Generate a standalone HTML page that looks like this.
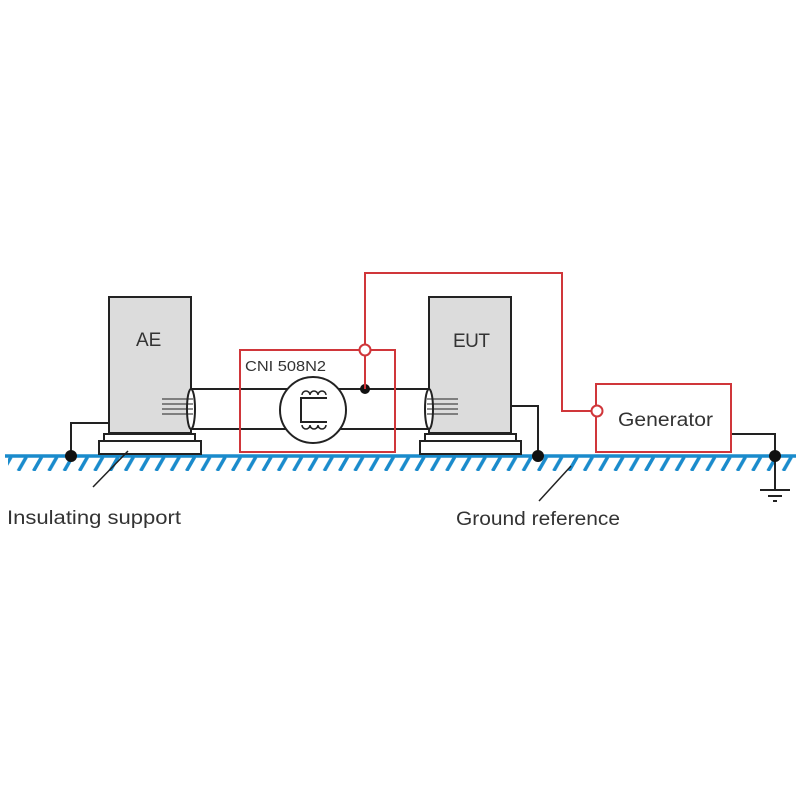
<!DOCTYPE html>
<html><head><style>body{margin:0;background:#fff}svg{display:block}</style></head><body>
<svg width="800" height="800" viewBox="0 0 800 800" xmlns="http://www.w3.org/2000/svg" font-family="Liberation Sans, sans-serif">
<defs><pattern id="h" x="0" y="457" width="15.3" height="14" patternUnits="userSpaceOnUse"><line x1="11" y1="0" x2="3" y2="14" stroke="#1a8bcc" stroke-width="3.5"/></pattern></defs>
<rect x="8" y="457" width="787" height="14" fill="url(#h)"/>
<line x1="5" y1="456" x2="796" y2="456" stroke="#1a8bcc" stroke-width="3.5"/>
<g stroke="#222" stroke-width="2" fill="none">
<rect x="109" y="297" width="82" height="136" fill="#dcdcdc"/>
<rect x="104" y="434" width="91" height="7" fill="#fff"/>
<rect x="99" y="441" width="102" height="13" fill="#fff"/>
<rect x="429" y="297" width="82" height="136" fill="#dcdcdc"/>
<rect x="425" y="434" width="91" height="7" fill="#fff"/>
<rect x="420" y="441" width="101" height="13" fill="#fff"/>
<polyline points="109,423 71,423 71,455"/>
<polyline points="511,406 538,406 538,455"/>
<polyline points="731,434 775,434 775,490"/>
<line x1="760" y1="490" x2="790" y2="490"/><line x1="768" y1="496" x2="782" y2="496"/><line x1="773" y1="501" x2="777" y2="501"/>
<line x1="191" y1="389" x2="429" y2="389"/><line x1="191" y1="429" x2="429" y2="429"/>
<ellipse cx="191" cy="409" rx="4" ry="20" fill="#fff"/>
<ellipse cx="429" cy="409" rx="4" ry="20" fill="#fff"/>
<g stroke-width="1"><line x1="162" y1="399" x2="193" y2="399"/><line x1="162" y1="404" x2="193" y2="404"/><line x1="162" y1="409" x2="193" y2="409"/><line x1="162" y1="414" x2="193" y2="414"/>
<line x1="427" y1="399" x2="458" y2="399"/><line x1="427" y1="404" x2="458" y2="404"/><line x1="427" y1="409" x2="458" y2="409"/><line x1="427" y1="414" x2="458" y2="414"/></g>
<circle cx="313" cy="410" r="33" fill="#fff"/>
<polyline points="327,398 301,398 301,422 327,422"/>
<path d="M302,395 a4,4 0 0 1 8,0 a4,4 0 0 1 8,0 a4,4 0 0 1 8,0" stroke-width="1.5"/>
<path d="M302,425 a4,4 0 0 0 8,0 a4,4 0 0 0 8,0 a4,4 0 0 0 8,0" stroke-width="1.5"/>
<line x1="93" y1="487" x2="128" y2="451" stroke-width="1.5"/>
<line x1="539" y1="501" x2="571" y2="466" stroke-width="1.5"/>
</g>
<g fill="#111"><circle cx="71" cy="456" r="6"/><circle cx="538" cy="456" r="6"/><circle cx="775" cy="456" r="6"/><circle cx="365" cy="389" r="5"/></g>
<g stroke="#d0363a" stroke-width="2" fill="none">
<rect x="240" y="350" width="155" height="102"/>
<rect x="596" y="384" width="135" height="68" fill="#fff"/>
<polyline points="365,389 365,273 562,273 562,411 592,411"/>
<circle cx="365" cy="350" r="5.5" fill="#fff"/>
<circle cx="597" cy="411" r="5.5" fill="#fff"/>
</g>
<g fill="#333" font-size="19">
<text x="136" y="346">AE</text>
<text x="453" y="347" textLength="37">EUT</text>
<text x="618" y="426" textLength="95" lengthAdjust="spacingAndGlyphs">Generator</text>
<text x="245" y="371" font-size="15" textLength="81" lengthAdjust="spacingAndGlyphs">CNI 508N2</text>
<text x="7" y="524" textLength="174" lengthAdjust="spacingAndGlyphs">Insulating support</text>
<text x="456" y="525" textLength="164" lengthAdjust="spacingAndGlyphs">Ground reference</text>
</g>
</svg>
</body></html>
